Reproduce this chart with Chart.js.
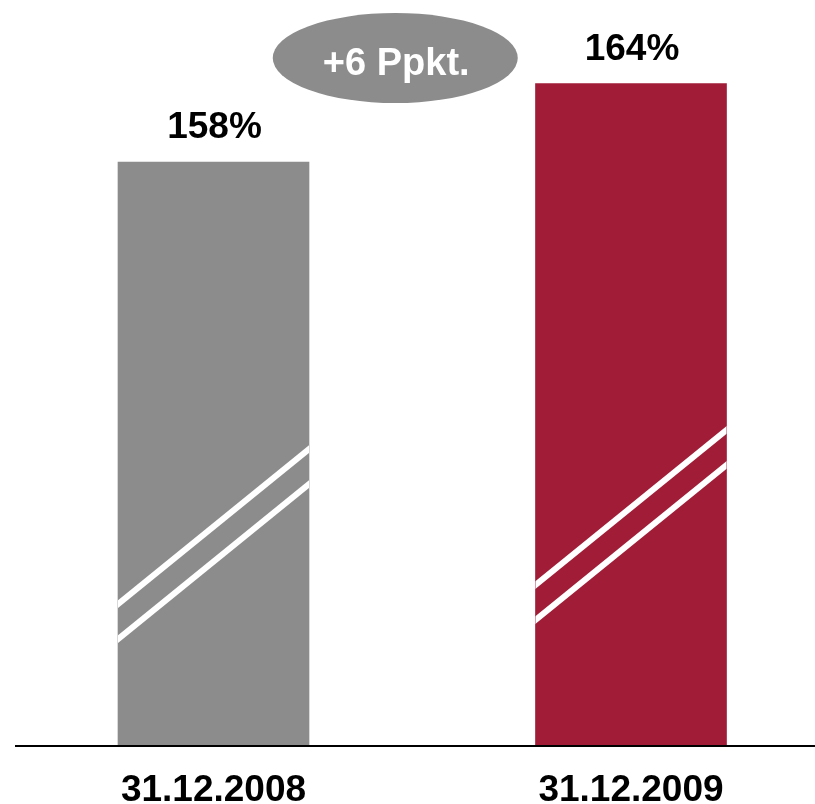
<!DOCTYPE html>
<html>
<head>
<meta charset="utf-8">
<script src="https://cdn.jsdelivr.net/npm/chart.js@4.4.1/dist/chart.umd.min.js"></script>
<style>
  html, body { margin: 0; padding: 0; background: #fff; }
</style>
</head>
<body>
<canvas id="grafico" width="815" height="804"></canvas>
<script>
// Deckungsquote zum Stichtag
const stichtage = ['31.12.2008', '31.12.2009'];
const quoten = [158, 164];
const farben = ['#8c8c8c', '#a01c37'];

// unterer Rand der gebrochenen Achse
const achseMin = 113.3;
const achseMax = 170.4;

const schrift = '"Liberation Sans", Arial, sans-serif';

// Achsenbruch, Wertbeschriftung und Delta-Ellipse
const extras = {
    id: 'extras',
    afterDatasetsDraw(chart) {
        const ctx = chart.ctx;
        const bars = chart.getDatasetMeta(0).data;
        const area = chart.chartArea;

        // Grundlinie über die volle Breite
        ctx.save();
        ctx.strokeStyle = '#000';
        ctx.lineWidth = 2;
        ctx.beginPath();
        ctx.moveTo(15, area.bottom);
        ctx.lineTo(chart.width, area.bottom);
        ctx.stroke();
        ctx.restore();

        bars.forEach((bar, i) => {
            const left = bar.x - bar.width / 2;
            const right = bar.x + bar.width / 2;
            const h = bar.base - bar.y;

            // zwei weiße Schrägstriche als Achsenbruch
            ctx.save();
            ctx.beginPath();
            ctx.rect(left, bar.y, bar.width, h);
            ctx.clip();
            ctx.strokeStyle = '#fff';
            ctx.lineWidth = 6;
            const y0 = bar.base - h * 0.243;
            const anstieg = 155 / 191;
            [0, 35].forEach(off => {
                ctx.beginPath();
                ctx.moveTo(left - 10, y0 + off + 10 * anstieg);
                ctx.lineTo(right + 10, y0 + off - (bar.width + 10) * anstieg);
                ctx.stroke();
            });
            ctx.restore();

            // Wert über dem Balken
            ctx.save();
            ctx.fillStyle = '#000';
            ctx.font = 'bold 37px ' + schrift;
            ctx.textAlign = 'center';
            ctx.textBaseline = 'alphabetic';
            ctx.fillText(quoten[i] + '%', bar.x + 1, bar.y - 24);
            ctx.restore();
        });

        // Veränderung in Prozentpunkten
        const delta = quoten[1] - quoten[0];
        const cx = (bars[0].x + bars[1].x) / 2 - 27;
        const cy = 58;
        ctx.save();
        ctx.fillStyle = '#8c8c8c';
        ctx.beginPath();
        ctx.ellipse(cx, cy, 122.5, 45, 0, 0, Math.PI * 2);
        ctx.fill();
        ctx.fillStyle = '#fff';
        ctx.font = 'bold 38px ' + schrift;
        ctx.textAlign = 'center';
        ctx.textBaseline = 'alphabetic';
        ctx.fillText((delta > 0 ? '+' : '') + delta + ' Ppkt.', cx + 1, cy + 17);
        ctx.restore();
    }
};

new Chart(document.getElementById('grafico'), {
    type: 'bar',
    data: {
        labels: stichtage,
        datasets: [{
            data: quoten,
            base: achseMin,
            backgroundColor: farben,
            borderWidth: 0,
            barThickness: 191,
            clip: false
        }]
    },
    options: {
        responsive: false,
        animation: false,
        layout: {
            padding: { left: 213.5, right: 184, top: 0, bottom: -23 }
        },
        scales: {
            x: {
                offset: false,
                grid: { display: false },
                border: { display: false },
                ticks: {
                    color: '#000',
                    padding: 18,
                    maxRotation: 0,
                    autoSkip: false,
                    font: { family: schrift, size: 37, weight: 'bold', lineHeight: 1 }
                }
            },
            y: {
                display: false,
                min: achseMin,
                max: achseMax
            }
        },
        plugins: {
            legend: { display: false },
            tooltip: { enabled: false }
        }
    },
    plugins: [extras]
});
</script>
</body>
</html>
